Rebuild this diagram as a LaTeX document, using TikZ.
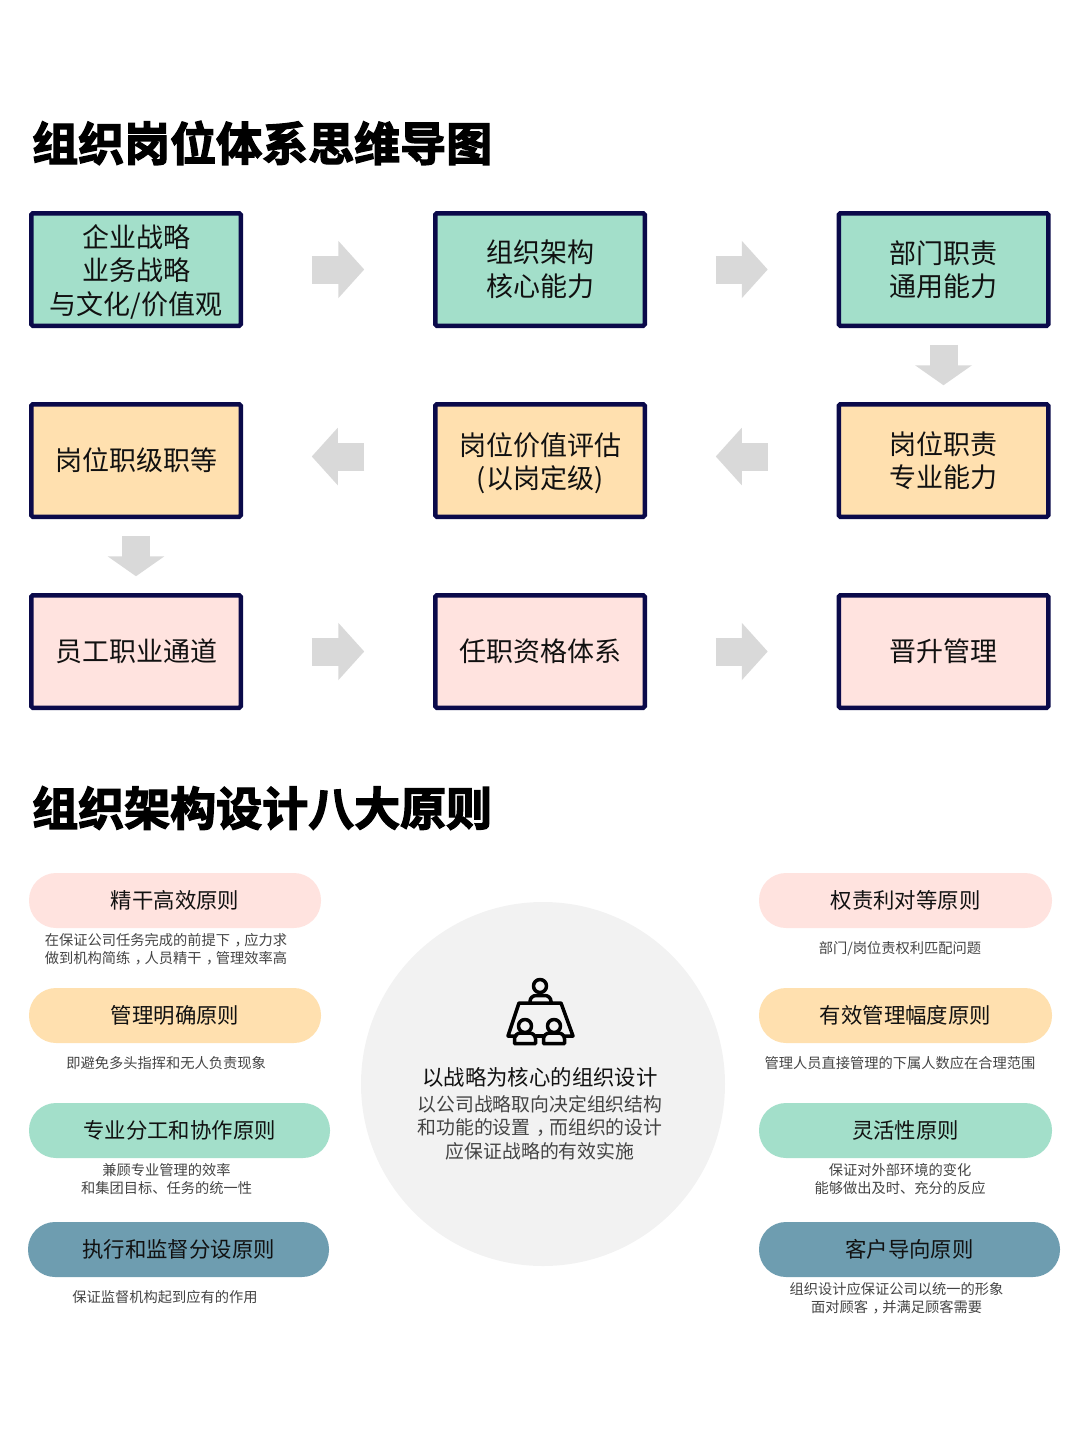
\documentclass[tikz,border=0pt]{standalone}
\usepackage{fontspec}
\setmainfont{Noto Sans CJK SC}
\newfontfamily\titlefont[FakeBold=3]{Noto Sans CJK SC Bold}
\usetikzlibrary{arrows.meta}
\definecolor{boxline}{HTML}{0B0A4A}
\definecolor{tealfill}{HTML}{A3DFCA}
\definecolor{peachfill}{HTML}{FFE0AF}
\definecolor{pinkfill}{HTML}{FFE3DF}
\definecolor{slatefill}{HTML}{6E9DB0}
\definecolor{arrowgray}{HTML}{D9D9D9}
\definecolor{discgray}{HTML}{F2F2F2}
\definecolor{inktext}{HTML}{111111}
\definecolor{subtext}{HTML}{444444}
\newcommand{\midcomma}{\makebox[1em][l]{\hspace{.32em}，}}
\begin{document}
\begin{tikzpicture}[x=1pt,y=-1pt,
     title/.style = {anchor=west, inner sep=0pt, text=black, font=\titlefont\fontsize{46}{46}\selectfont},
     block/.style = {draw=boxline, line width=4.5pt, rounded corners=1.5pt, outer sep=0pt, inner sep=0pt,
      minimum width=209.5pt, minimum height=112.5pt, align=center, text=inktext,
      font=\fontsize{27}{33.5}\selectfont},
     pill/.style = {rounded corners=27pt, inner sep=0pt, minimum height=55pt, text=inktext,
      font=\fontsize{21.4}{26}\selectfont},
     note/.style = {inner sep=0pt, align=center, text=subtext, font=\fontsize{14.25}{18}\selectfont},
     bigarrow/.style = {draw=arrowgray, line width=28pt, -{Triangle[length=26pt,width=56pt]}, shorten <=71pt, shorten >=71pt},
     downarrow/.style = {draw=arrowgray, line width=28pt, -{Triangle[length=20pt,width=56pt]}, shorten <=19pt, shorten >=19pt},
     icon/.style = {draw=black, line width=3.5pt, line join=round, line cap=round}
    ]
    \useasboundingbox (0,0) rectangle (1080,1443);

    \node [title] at (32,143) (maptitle) {组织岗位体系思维导图};

    \node [block, fill=tealfill] at (136,269.5) (strategy) {企业战略\\业务战略\\\smash{与文化/价值观}};
    \node [block, fill=tealfill, right of=strategy, node distance=404pt] (structure) {组织架构\\核心能力};
    \node [block, fill=tealfill, right of=structure, node distance=403.5pt] (dept) {部门职责\\通用能力};
    \node [block, fill=peachfill, below of=dept, node distance=191pt] (post) {岗位职责\\专业能力};
    \node [block, fill=peachfill, left of=post, node distance=403.5pt] (value) {岗位价值评估\\\smash{(以岗定级)}};
    \node [block, fill=peachfill, left of=value, node distance=404pt] (grade) {岗位职级职等};
    \node [block, fill=pinkfill, below of=grade, node distance=191pt] (career) {员工职业通道};
    \node [block, fill=pinkfill, right of=career, node distance=404pt] (qualify) {任职资格体系};
    \node [block, fill=pinkfill, right of=qualify, node distance=403.5pt] (promote) {晋升管理};

    \draw[bigarrow] (strategy) -- (structure);
    \draw[bigarrow] (structure) -- (dept);
    \draw[downarrow] (dept) -- (post);
    \draw[bigarrow] ([yshift=4pt]post.west) -- ([yshift=4pt]value.east);
    \draw[bigarrow] ([yshift=4pt]value.west) -- ([yshift=4pt]grade.east);
    \draw[downarrow] (grade) -- (career);
    \draw[bigarrow] (career) -- (qualify);
    \draw[bigarrow] (qualify) -- (promote);

    \node [title] at (32,808) (ruletitle) {组织架构设计八大原则};

    \node [pill, fill=pinkfill, minimum width=292pt] at (175,900.5) (lean) {精干高效原则};
    \node [note, below of=lean, node distance=48.5pt, xshift=-9pt] (leannote) {在保证公司任务完成的前提下\midcomma 应力求\\做到机构简练\midcomma 人员精干\midcomma 管理效率高};
    \node [pill, fill=peachfill, minimum width=292pt] at (175,1015.5) (clear) {管理明确原则};
    \node [note, below of=clear, node distance=47.5pt, xshift=-9pt] (clearnote) {即避免多头指挥和无人负责现象};
    \node [pill, fill=tealfill, minimum width=301pt] at (179.5,1130.5) (divide) {专业分工和协作原则};
    \node [note, below of=divide, node distance=48.5pt, xshift=-13pt] (dividenote) {兼顾专业管理的效率\\和集团目标、任务的统一性};
    \node [pill, fill=slatefill, minimum width=301pt] at (178.5,1249.5) (audit) {执行和监督分设原则};
    \node [note, below of=audit, node distance=47.5pt, xshift=-13.5pt] (auditnote) {保证监督机构起到应有的作用};

    \node [pill, fill=pinkfill, minimum width=293pt] at (905.5,900.5) (equal) {权责利对等原则};
    \node [note, below of=equal, node distance=48pt, xshift=-5.5pt] (equalnote) {部门/岗位责权利匹配问题};
    \node [pill, fill=peachfill, minimum width=293pt] at (905.5,1015.5) (span) {有效管理幅度原则};
    \node [note, below of=span, node distance=47.5pt, xshift=-5.5pt] (spannote) {管理人员直接管理的下属人数应在合理范围};
    \node [pill, fill=tealfill, minimum width=293pt] at (905.5,1130.5) (flex) {灵活性原则};
    \node [note, below of=flex, node distance=48.5pt, xshift=-5.5pt] (flexnote) {保证对外部环境的变化\\能够做出及时、充分的反应};
    \node [pill, fill=slatefill, minimum width=301pt] at (909.5,1249.5) (client) {客户导向原则};
    \node [note, below of=client, node distance=48.5pt, xshift=-13pt] (clientnote) {组织设计应保证公司以统一的形象\\面对顾客\midcomma 并满足顾客需要};

    \node [circle, fill=discgray, inner sep=0pt, minimum size=364pt] at (543,1084) (disc) {};
    \node [inner sep=0pt, text=inktext, font=\fontsize{21.4}{26}\selectfont] at (540,1077) (disctitle) {以战略为核心的组织设计};
    \node [inner sep=0pt, align=center, text=subtext, below of=disctitle, node distance=50.5pt,
      font=\fontsize{18.85}{23.5}\selectfont] (disctext) {以公司战略取向决定组织结构\\和功能的设置\midcomma 而组织的设计\\应保证战略的有效实施};

    % table with three seats
    \draw[icon] (540,986) circle (6.5);
    \draw[icon, rounded corners=6pt] (530,1003) -- (530,995.5) -- (551,995.5) -- (551,1003);
    \draw[icon] (516,1036) -- (508,1036) -- (519,1003) -- (561,1003) -- (573,1036) -- (564,1036);
    \draw[icon] (536,1036) -- (544,1036);
    \foreach \seat in {525,554} {
      \draw[icon] (\seat-10.5,1043.5) {[rounded corners=6pt] -- (\seat-10.5,1033) -- (\seat+10.5,1033)} -- (\seat+10.5,1043.5) -- cycle;
      \draw[icon, fill=discgray] (\seat,1026) circle (6.5);
    }
\end{tikzpicture}
\end{document}
